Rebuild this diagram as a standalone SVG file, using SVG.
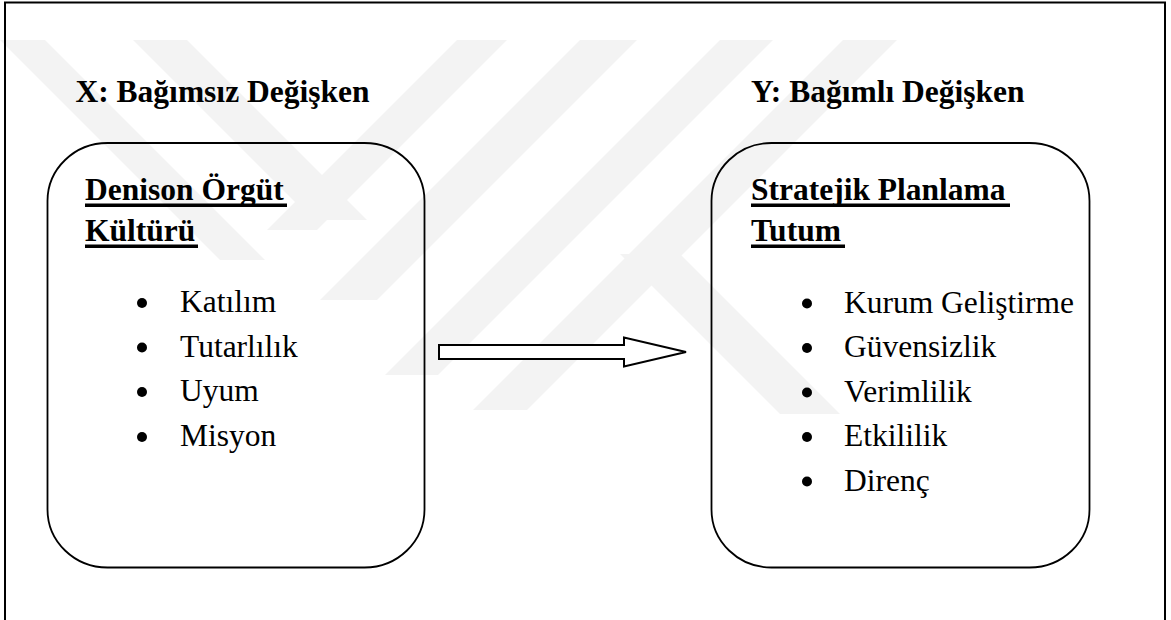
<svg xmlns="http://www.w3.org/2000/svg" width="1171" height="620" viewBox="0 0 1171 620">
  <style>
    .wm { fill: #f3f3f3; stroke: none; }
    .frame { fill: none; stroke: #000; stroke-width: 2; }
    .box { fill: none; stroke: #000; stroke-width: 1.8; }
    .t { font-family: "Liberation Serif", "Times New Roman", serif; font-size: 31.5px; fill: #000; }
    .b { font-weight: bold; }
    .ul { fill: #000; }
    .dot { fill: #000; }
    .arrow { fill: #fff; stroke: #000; stroke-width: 2; stroke-linejoin: miter; }
  </style>

  <rect x="0" y="0" width="1171" height="620" fill="#fff"/>

  <g id="watermark">
    <polygon class="wm" points="0,40 45,40 265,260 220,260 0,40"/>
    <polygon class="wm" points="133,40 187,40 367,220 313,220"/>
    <polygon class="wm" points="457,40 507,40 317,230 267,230"/>
    <polygon class="wm" points="580,40 637,40 377,300 320,300"/>
    <polygon class="wm" points="720,40 773,40 438,375 385,375"/>
    <polygon class="wm" points="843,40 897,40 527,410 473,410"/>
    <polygon class="wm" points="620,254 680,254 840,414 780,414"/>
  </g>

  <g id="frame">
    <rect class="frame" x="5" y="2.5" width="1160" height="640"/>
  </g>

  <g id="node-x">
    <text class="t b" x="75.5" y="102">X: Bağımsız Değişken</text>
    <rect class="box" x="47.5" y="143" width="377" height="424.5" rx="60" ry="58"/>
    <text class="t b" x="85" y="199.5">Denison Örgüt</text>
    <rect class="ul" x="85" y="203.5" width="202" height="3.5"/>
    <text class="t b" x="85" y="240.5">Kültürü</text>
    <rect class="ul" x="85" y="244.5" width="113" height="3.5"/>
    <circle class="dot" cx="142" cy="303" r="5"/>
    <text class="t" x="180" y="312">Katılım</text>
    <circle class="dot" cx="142" cy="347.5" r="5"/>
    <text class="t" x="180" y="356.5">Tutarlılık</text>
    <circle class="dot" cx="142" cy="392" r="5"/>
    <text class="t" x="180" y="401">Uyum</text>
    <circle class="dot" cx="142" cy="437" r="5"/>
    <text class="t" x="180" y="446">Misyon</text>
  </g>

  <g id="node-y">
    <text class="t b" x="751" y="102">Y: Bağımlı Değişken</text>
    <rect class="box" x="711.5" y="143" width="378" height="424.5" rx="60" ry="58"/>
    <text class="t b" x="751" y="199.5">Stratejik Planlama</text>
    <rect class="ul" x="751" y="203.5" width="259" height="3.5"/>
    <text class="t b" x="751" y="240.5">Tutum</text>
    <rect class="ul" x="751" y="244.5" width="94" height="3.5"/>
    <circle class="dot" cx="807" cy="303.5" r="5"/>
    <text class="t" x="844" y="312.5">Kurum Geliştirme</text>
    <circle class="dot" cx="807" cy="348" r="5"/>
    <text class="t" x="844" y="357">Güvensizlik</text>
    <circle class="dot" cx="807" cy="392.5" r="5"/>
    <text class="t" x="844" y="401.5">Verimlilik</text>
    <circle class="dot" cx="807" cy="437" r="5"/>
    <text class="t" x="844" y="446">Etkililik</text>
    <circle class="dot" cx="807" cy="481.5" r="5"/>
    <text class="t" x="844" y="490.5">Direnç</text>
  </g>

  <g id="connectors">
    <polygon class="arrow" points="439,345 624,345 624,337.5 686,352 624,366.5 624,359 439,359"/>
  </g>
</svg>
